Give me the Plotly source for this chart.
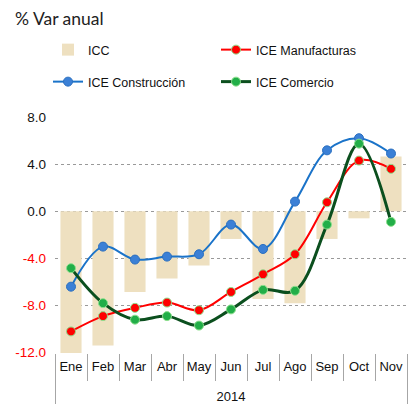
import plotly.graph_objects as go

months = ["Ene", "Feb", "Mar", "Abr", "May", "Jun", "Jul", "Ago", "Sep", "Oct", "Nov"]
year = ["<br>2014"] * len(months)
icc = [-12.4, -11.4, -6.85, -5.7, -4.6, -2.35, -7.45, -7.8, -2.35, -0.6, 4.65]
ice_manufacturas = [-10.2, -8.9, -8.2, -7.75, -8.4, -6.85, -5.35, -3.65, 0.76, 4.3, 3.6]
ice_construccion = [-6.4, -3.0, -4.1, -3.85, -3.65, -1.13, -3.2, 0.82, 5.17, 6.2, 4.9]
ice_comercio = [-4.83, -7.8, -9.2, -8.9, -9.7, -8.33, -6.67, -6.75, -1.13, 5.74, -0.9]
y_ticks = [8, 4, 0, -4, -8, -12]

NARROW = "Liberation Sans Narrow, Arial Narrow, Liberation Sans, Arial, sans-serif"

x = [year, months]

def tick_label(v):
    s = f"{v:.1f}"
    if v < 0:
        return f'<span style="color:#ff0000">{s}</span>'
    return s

fig = go.Figure()
fig.add_trace(go.Bar(
    x=x, y=icc, name="ICC", width=0.66,
    marker=dict(color="#EEE0C0", line=dict(width=0)),
    legend="legend",
))
fig.add_trace(go.Scatter(
    x=x, y=ice_manufacturas, name="ICE Manufacturas", mode="lines+markers",
    line=dict(color="#ff0000", width=2, shape="spline"),
    marker=dict(color="#ff0000", size=9, line=dict(color="#8de08d", width=1)),
    legend="legend",
))
fig.add_trace(go.Scatter(
    x=x, y=ice_construccion, name="ICE Construcción", mode="lines+markers",
    line=dict(color="#1a73c9", width=2, shape="spline"),
    marker=dict(color="#3b80d6", size=9, line=dict(color="#2a6fc0", width=1)),
    legend="legend2",
))
fig.add_trace(go.Scatter(
    x=x, y=ice_comercio, name="ICE Comercio", mode="lines+markers",
    line=dict(color="#0b4f1e", width=3, shape="spline"),
    marker=dict(color="#22ae48", size=9, line=dict(color="#8de08d", width=1)),
    legend="legend2",
))

legend_common = dict(
    orientation="h", xref="container", yref="container",
    xanchor="left", yanchor="middle",
    entrywidth=123, entrywidthmode="pixels",
    font=dict(family=NARROW, size=12.5, color="#111111"),
    bgcolor="rgba(0,0,0,0)", itemwidth=30,
)

fig.update_layout(
    width=412, height=404,
    margin=dict(l=55, r=5, t=117, b=51),
    paper_bgcolor="white", plot_bgcolor="white",
    showlegend=True,
    title=dict(text="% Var anual", x=15 / 412, y=1 - 19 / 404,
               xref="container", yref="container",
               xanchor="left", yanchor="middle",
               font=dict(family="Lato, Noto Sans, sans-serif", size=17.5, color="#222222")),
    legend=dict(x=48 / 412, y=1 - 50 / 404, **legend_common),
    legend2=dict(x=48 / 412, y=1 - 82 / 404, **legend_common),
    xaxis=dict(
        type="multicategory", range=[-0.5, 10.5], automargin=False,
        showgrid=False, showline=False, zeroline=False,
        ticks="outside", ticklen=27, tickcolor="#a6a6a6", tickwidth=1,
        tickson="boundaries", tickangle=0, ticklabelstandoff=4,
        showdividers=True, dividercolor="#a6a6a6", dividerwidth=1,
        tickfont=dict(family=NARROW, size=13, color="#111111"),
    ),
    xaxis2=dict(
        overlaying="x", anchor="free", position=0.6, side="bottom",
        range=[-0.5, 10.5], tickmode="linear", tick0=-0.5, dtick=1,
        ticks="inside", ticklen=4, tickcolor="#a6a6a6", tickwidth=1,
        showticklabels=False, showgrid=False, zeroline=False,
        showline=True, linecolor="#a6a6a6", linewidth=2,
    ),
    yaxis=dict(
        range=[-12.03, 8], tickmode="array", tickvals=y_ticks, automargin=False,
        ticktext=[tick_label(v) for v in y_ticks],
        showgrid=True, gridcolor="#999999", griddash="dot", gridwidth=1,
        zeroline=False, showline=False, ticks="",
        ticklabelstandoff=8,
        tickfont=dict(family=NARROW, size=13.5, color="#111111"),
    ),
)

fig.write_html("out.html")
